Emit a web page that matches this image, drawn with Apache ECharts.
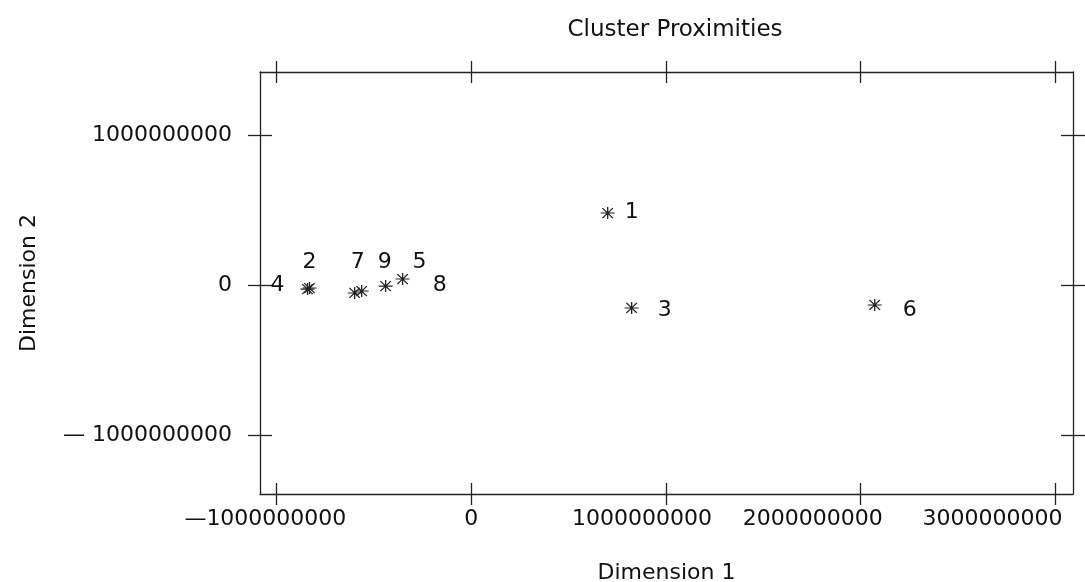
<!DOCTYPE html>
<html>
<head>
<meta charset="utf-8">
<script src="https://cdn.jsdelivr.net/npm/echarts@6/dist/echarts.min.js"></script>
<style>html,body{margin:0;padding:0;background:#fff;}#c{width:1085px;height:582px;}</style>
</head>
<body>
<div id="c"></div>
<script>
// ---- data ----
const clusterNames = ['1', '2', '3', '4', '5', '6', '7', '8', '9'];
const dim1 = [701000000, -840000000, 824000000, -830000000, -352000000, 2072000000, -598000000, -562000000, -439000000];
const dim2 = [480000000, -27000000, -153000000, -20000000, 40000000, -133000000, -53000000, -40000000, -7000000];
const xTickValues = [-1000000000, 0, 1000000000, 2000000000, 3000000000];
const xTickLabels = ['\u20141000000000', '0', '1000000000', '2000000000', '3000000000'];
const yTickValues = [-1000000000, 0, 1000000000];
const yTickLabels = ['\u2014 1000000000', '0', '1000000000'];

// ---- style ----
const FONT = 'DejaVu Sans';
const INK = '#111';
const LINE = '#222';
const LW = 1.3;
const labelOffsets = {
  '1': [24, -1], '2': [2, -27], '3': [33, 2], '4': [-32, -3], '5': [17, -17],
  '6': [35, 5], '7': [3, -31], '8': [78, -6], '9': [-1, -24]
};
const xLabelShift = [11, 0, 24, 48, 63]; // px shift to the left
const xRange = [-1084000000, 3090000000];
const yRange = [-1393000000, 1420000000];

const xRich = {};
xLabelShift.forEach((s, i) => {
  xRich['s' + i] = { fontFamily: FONT, fontSize: 22, color: INK, padding: [0, 2 * s, 0, 0] };
});

function xAxisDef(pos, inside, withLabel, withLine) {
  return {
    type: 'value', position: pos, min: xRange[0], max: xRange[1],
    axisLine: { show: withLine, onZero: false, lineStyle: { color: LINE, width: LW } },
    axisTick: { show: true, inside: inside, length: 11, customValues: xTickValues, lineStyle: { color: LINE, width: LW } },
    axisLabel: withLabel ? {
      show: true, customValues: xTickValues, margin: 14,
      formatter: function (v) { const i = xTickValues.indexOf(v); return '{s' + i + '|' + xTickLabels[i] + '}'; },
      rich: xRich
    } : { show: false },
    splitLine: { show: false },
    name: withLabel ? 'Dimension 1' : '',
    nameLocation: 'middle', nameGap: 68,
    nameTextStyle: { fontFamily: FONT, fontSize: 22, color: INK }
  };
}
function yAxisDef(pos, inside, withLabel, withLine) {
  return {
    type: 'value', position: pos, min: yRange[0], max: yRange[1],
    axisLine: { show: withLine, onZero: false, lineStyle: { color: LINE, width: LW } },
    axisTick: { show: true, inside: inside, length: 12, customValues: yTickValues, lineStyle: { color: LINE, width: LW } },
    axisLabel: withLabel ? {
      show: true, customValues: yTickValues, margin: 28,
      fontFamily: FONT, fontSize: 22, color: INK,
      formatter: function (v) { return yTickLabels[yTickValues.indexOf(v)]; }
    } : { show: false },
    splitLine: { show: false },
    name: withLabel ? 'Dimension 2' : '',
    nameLocation: 'middle', nameGap: 220,
    nameTextStyle: { fontFamily: FONT, fontSize: 22, color: INK }
  };
}

const points = clusterNames.map((n, i) => ({
  value: [dim1[i], dim2[i]],
  name: n,
  label: { offset: labelOffsets[n] }
}));

const chart = echarts.init(document.getElementById('c'), null, { renderer: 'canvas' });
chart.setOption({
  animation: false,
  backgroundColor: '#fff',
  title: {
    text: 'Cluster Proximities', left: 670, top: 14, textAlign: 'center',
    textStyle: { fontFamily: FONT, fontSize: 23, fontWeight: 'normal', color: INK }
  },
  grid: { left: 260, right: 12, top: 72, bottom: 88, containLabel: false, outerBoundsMode: 'none' },
  xAxis: [
    xAxisDef('bottom', false, true, true),
    xAxisDef('bottom', true, false, false),
    xAxisDef('top', false, false, true),
    xAxisDef('top', true, false, false)
  ],
  yAxis: [
    yAxisDef('left', false, true, true),
    yAxisDef('left', true, false, false),
    yAxisDef('right', false, false, true),
    yAxisDef('right', true, false, false)
  ],
  series: [{
    type: 'scatter', xAxisIndex: 0, yAxisIndex: 0,
    symbol: 'path://M0,6L16,6M8,0L8,12M2,1L14,11M2,11L14,1',
    symbolSize: [14, 12],
    itemStyle: { color: 'rgba(0,0,0,0)', borderColor: '#222', borderWidth: 1.2, opacity: 1 },
    label: {
      show: true, position: 'inside', formatter: '{b}',
      fontFamily: FONT, fontSize: 22, color: INK, textBorderWidth: 0
    },
    emphasis: { disabled: true },
    data: points
  }]
});
</script>
</body>
</html>
